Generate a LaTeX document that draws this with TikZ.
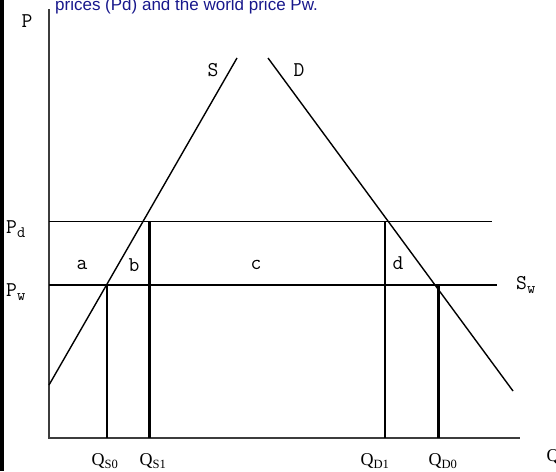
\documentclass[tikz,border=0pt]{standalone}
\usepackage{fontspec}
\newfontfamily\arialfont{Liberation Sans}
\newfontfamily\timesfont{Liberation Serif}
\definecolor{navy}{RGB}{24,24,140}
\definecolor{axisgray}{RGB}{60,60,60}
\newcommand{\lowsub}[1]{\raisebox{-4pt}{\fontsize{16}{16}\selectfont #1}}
\begin{document}
\begin{tikzpicture}[x=1pt,y=-1pt,
  axisline/.style={draw=axisgray,line width=1.6pt},
  thinline/.style={draw=black,line width=1.1pt},
  thickline/.style={draw=black,line width=3pt},
  curve/.style={draw=black,line width=1.4pt},
  lbl/.style={inner sep=0pt,font=\ttfamily\fontsize{21}{21}\selectfont},
  qlbl/.style={inner sep=0pt,font=\timesfont\fontsize{18}{18}\selectfont}]
\useasboundingbox (0,0) rectangle (556,471);
\fill[black] (0,0) rectangle (3.5,471);
\node[anchor=base west,text=navy,inner sep=0pt,font=\arialfont\fontsize{17}{17}\selectfont] (title) at (55,10) {prices (Pd) and the world price Pw.};
% axes
\coordinate (ytop) at (49,9);
\coordinate (O) at (49,438);
\coordinate (xend) at (520,438);
\draw[axisline] (ytop) -- (O) -- (xend);
% price lines
\coordinate (pdL) at (49,221.5);
\coordinate (pdR) at (492,221.5);
\coordinate (pwL) at (49,285);
\coordinate (pwR) at (497,285);
\draw[thinline] (pdL) -- (pdR);
\draw[thinline] (pwL) -- (pwR);
% supply and demand
\coordinate (Sa) at (49,385);
\coordinate (Sb) at (237,58);
\coordinate (Da) at (268,58);
\coordinate (Db) at (513,391);
\draw[curve] (Sa) -- (Sb);
\draw[curve] (Da) -- (Db);
% verticals
\coordinate (qs0t) at (107,285);
\coordinate (qs0b) at (107,438);
\coordinate (qs1t) at (149,221.5);
\coordinate (qs1b) at (149,438);
\coordinate (qd1t) at (385,221.5);
\coordinate (qd1b) at (385,438);
\coordinate (qd0t) at (438,285);
\coordinate (qd0b) at (438,438);
\draw[thinline] (qs0t) -- (qs0b);
\draw[thickline] (qs1t) -- (qs1b);
\draw[thinline] (qd1t) -- (qd1b);
\draw[thickline] (qd0t) -- (qd0b);
% labels
\node[lbl] (P) at (27,21) {P};
\node[lbl,anchor=base west] (Pd) at (6,233) {P\lowsub{d}};
\node[lbl,anchor=base west] (Pw) at (6,296) {P\lowsub{w}};
\node[lbl] (a) at (82,265) {a};
\node[lbl] (b) at (134,265) {b};
\node[lbl] (c) at (256,265) {c};
\node[lbl] (d) at (398,263) {d};
\node[lbl] (S) at (213,70) {S};
\node[lbl] (D) at (299,70) {D};
\node[lbl,anchor=base west] (Sw) at (516,289) {S\lowsub{w}};
\node[qlbl] (QS0) at (105,461) {Q\textsubscript{S0}};
\node[qlbl] (QS1) at (153,461) {Q\textsubscript{S1}};
\node[qlbl] (QD1) at (375,461) {Q\textsubscript{D1}};
\node[qlbl] (QD0) at (443,461) {Q\textsubscript{D0}};
\node[qlbl] (Q) at (553,457) {Q};
\end{tikzpicture}
\end{document}
